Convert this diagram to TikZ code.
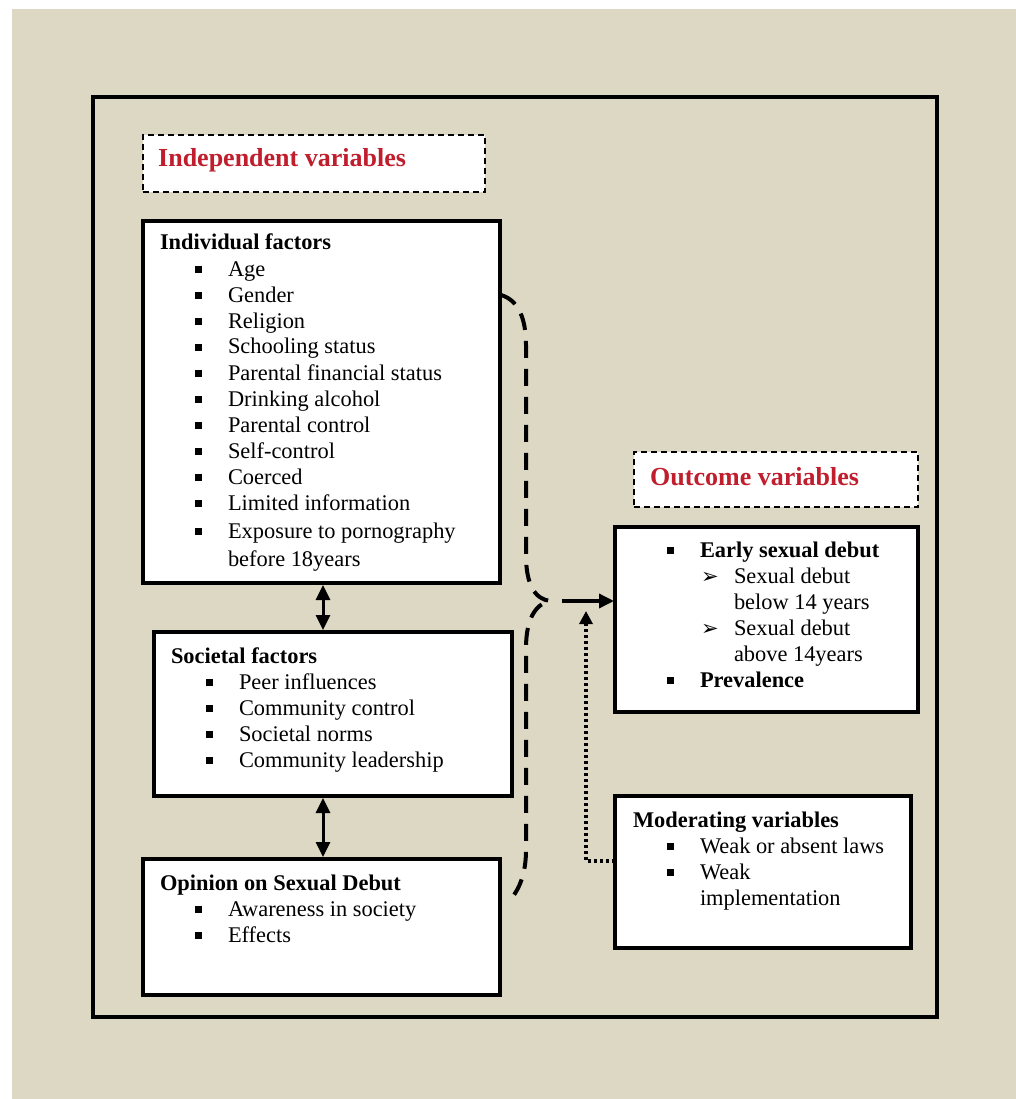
\documentclass[tikz,border=0pt]{standalone}
\usepackage{fontspec}
\setmainfont{Liberation Serif}
\newfontfamily\djv{DejaVu Sans}
\usetikzlibrary{arrows.meta}
\definecolor{bg}{RGB}{221,216,195}
\definecolor{tred}{RGB}{192,30,45}
\newcommand\sqb{\rule[3pt]{7pt}{7pt}}
\newcommand\bi{\makebox[68pt][l]{\hspace*{35pt}\sqb}}
\newcommand\bc{\hspace*{68pt}}
\newcommand\ob{\makebox[33pt][l]{\sqb}}
\newcommand\arr{\hspace*{34pt}\makebox[33pt][l]{\djv\fontsize{21}{21}\selectfont ➢}}
\newcommand\ac{\hspace*{67pt}}
\begin{document}
\begin{tikzpicture}[x=1pt,y=-1pt,
  box/.style={draw, line width=4.5pt, fill=white, anchor=north west, inner sep=0pt, outer sep=0pt},
  dbox/.style={draw, line width=1.8pt, dash pattern=on 6pt off 4pt, fill=white, anchor=north west, inner sep=0pt, outer sep=0pt},
  txt/.style={anchor=base west, inner sep=0pt, outer sep=0pt, font=\fontsize{22.4}{26}\selectfont},
  title/.style={anchor=base west, inner sep=0pt, text=tred, font=\fontsize{26}{30}\selectfont\bfseries},
  link/.style={line width=3pt, shorten <=2pt, shorten >=2pt},
  brace/.style={line width=4pt, dash pattern=on 17pt off 11pt},
  dots/.style={line width=3.2pt, dash pattern=on 3pt off 3pt},
  tp/.tip={Triangle[width=14pt,length=15pt]}
]
\path[use as bounding box] (0,0) rectangle (1016,1099);
\fill[white] (0,0) rectangle (1016,1099);
\fill[bg] (12,9) rectangle (1016,1099);
\draw[line width=4pt] (93,97) rectangle (937,1017);

% titles
\node[dbox, minimum width=342pt, minimum height=57pt] (indep) at (143,135) {};
\node[title] (indept) at (158,167) {Independent variables};
\node[dbox, minimum width=284pt, minimum height=55pt] (outv) at (634,452) {};
\node[title] (outvt) at (650,485) {Outcome variables};

% boxes
\node[box, minimum width=357pt, minimum height=362pt] (ind) at (143,221) {};
\node[box, minimum width=358pt, minimum height=164pt] (soc) at (154,632) {};
\node[box, minimum width=357pt, minimum height=136pt] (opi) at (143,859) {};
\node[box, minimum width=303pt, minimum height=185pt] (out) at (615,527) {};
\node[box, minimum width=296pt, minimum height=152pt] (mod) at (615,796) {};

\node[txt] (indt) at (160,250) {\begin{tabular}[t]{@{}l@{}}
\textbf{Individual factors}\\
\bi Age\\
\bi Gender\\
\bi Religion\\
\bi Schooling status\\
\bi Parental financial status\\
\bi Drinking alcohol\\
\bi Parental control\\
\bi Self-control\\
\bi Coerced\\
\bi Limited information\\[2pt]
\bi Exposure to pornography\\[2pt]
\bc before 18years
\end{tabular}};

\node[txt] (soct) at (171,663) {\begin{tabular}[t]{@{}l@{}}
\textbf{Societal factors}\\
\bi Peer influences\\
\bi Community control\\
\bi Societal norms\\
\bi Community leadership
\end{tabular}};

\node[txt] (opit) at (160,890) {\begin{tabular}[t]{@{}l@{}}
\textbf{Opinion on Sexual Debut}\\
\bi Awareness in society\\
\bi Effects
\end{tabular}};

\node[txt] (outt) at (667,557) {\begin{tabular}[t]{@{}l@{}}
\ob\textbf{Early sexual debut}\\
\arr Sexual debut\\
\ac below 14 years\\
\arr Sexual debut\\
\ac above 14years\\
\ob\textbf{Prevalence}
\end{tabular}};

\node[txt] (modt) at (633,827) {\begin{tabular}[t]{@{}l@{}}
\textbf{Moderating variables}\\
\makebox[67pt][l]{\hspace*{34pt}\sqb}Weak or absent laws\\
\makebox[67pt][l]{\hspace*{34pt}\sqb}Weak\\
\hspace*{67pt}implementation
\end{tabular}};

% double arrows
\draw[link, tp-tp] ([xshift=1.5pt]ind.south) -- ([xshift=1.5pt]ind.south |- soc.north);
\draw[link, tp-tp] ([xshift=1.5pt]ind.south |- soc.south) -- ([xshift=1.5pt]ind.south |- opi.north);

% brace
\coordinate (bs) at (501,295);
\coordinate (bt) at (550,601);
\coordinate (be) at (511,899);
\draw[brace] (bs) .. controls (518,300) and (526,318) .. (526,345) -- (526,555)
  .. controls (526,585) and (535,599) .. (bt)
  .. controls (535,604) and (526,620) .. (526,648) -- (526,850)
  .. controls (526,872) and (520,888) .. (be);

% arrow to outcome
\draw[line width=3.5pt, -tp] ([xshift=12pt]bt) -- ([xshift=-1pt]bt -| out.west);

% dotted moderating arrow
\coordinate (dt) at (586,611);
\draw[dots, -{Triangle[width=13pt,length=13pt]}] ([yshift=11pt]mod.west) -| (dt);
\end{tikzpicture}
\end{document}
